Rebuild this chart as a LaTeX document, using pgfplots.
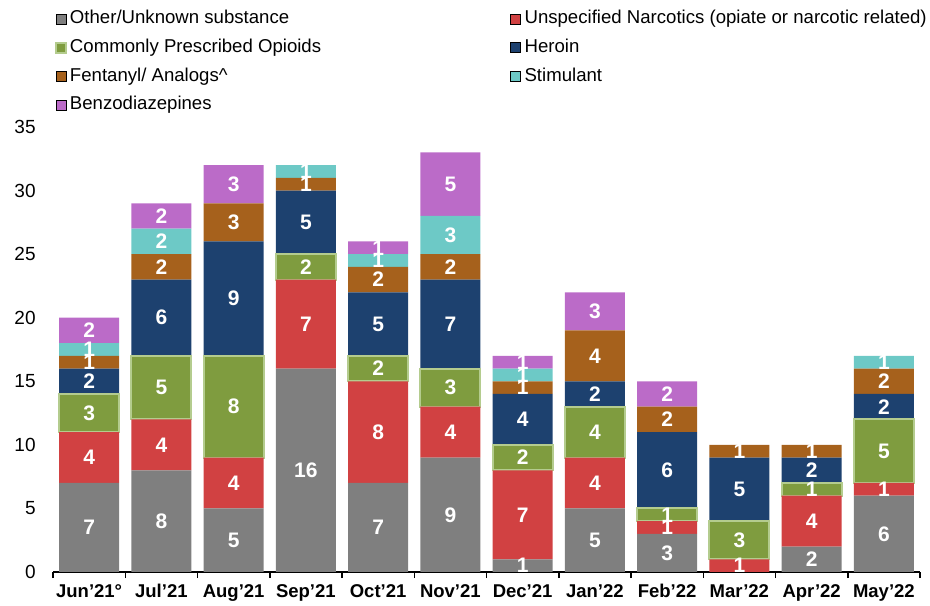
\documentclass[border=0pt]{standalone}
\usepackage{pgfplots}
\pgfplotsset{compat=1.18}
\usepackage{pgfplotstable}
\usepackage{fontspec}
\setmainfont{Liberation Sans}
\definecolor{cOther}{HTML}{7F7F7F}
\definecolor{cUnspec}{HTML}{D14142}
\definecolor{cPresc}{HTML}{7F9C3F}
\definecolor{cPrescEdge}{HTML}{B4CC8E}
\definecolor{cHeroin}{HTML}{1D416F}
\definecolor{cFent}{HTML}{A6611C}
\definecolor{cStim}{HTML}{6DC9C6}
\definecolor{cBenzo}{HTML}{BB6BC8}
\pgfplotstableread{
x Other Unspec Presc Heroin Fent Stim Benzo
0 7 4 3 2 1 1 2
1 8 4 5 6 2 2 2
2 5 4 8 9 3 0 3
3 16 7 2 5 1 1 0
4 7 8 2 5 2 1 1
5 9 4 3 7 2 3 5
6 1 7 2 4 1 1 1
7 5 4 4 2 4 0 3
8 3 1 1 6 2 0 2
9 0 1 3 5 1 0 0
10 2 4 1 2 1 0 0
11 6 1 5 2 2 1 0
}\datatable
\pgfplotsset{
  mybar/.style={
    legend image code/.code={\draw[##1] (0bp,-5bp) rectangle (10bp,5bp);},
  }
}
\newcommand{\seg}[3]{%
  \addplot[fill=#2, #3, mybar, visualization depends on={\thisrow{#1}\as\segval}]
    table[x=x,y=#1]{\datatable};
}
\begin{document}
\fontsize{18.6bp}{22bp}\selectfont
\begin{tikzpicture}
\path[use as bounding box] (0,0) rectangle (930bp,606bp);
\begin{axis}[
  at={(53bp,34bp)}, anchor=south west,
  scale only axis, width=867bp, height=445bp,
  xmin=-0.5, xmax=11.5, ymin=0, ymax=35,
  ybar stacked, bar width=0.83,
  axis x line=bottom, axis y line=left,
  axis line style={-},
  x axis line style={line width=1.5bp, black},
  y axis line style={draw=none},
  tick align=outside,
  major tick length=0bp, minor tick length=6bp,
  minor tick style={line width=1.5bp, black},
  xtick={0,...,11},
  minor xtick={-0.5,0.5,...,11.5},
  xticklabels={Jun'21°,Jul'21,Aug'21,Sep'21,Oct'21,Nov'21,Dec'21,Jan'22,Feb'22,Mar'22,Apr'22,May'22},
  x tick label style={font=\fontsize{18.5bp}{20bp}\selectfont\bfseries, yshift=-6bp},
  ytick={0,5,...,35},
  y tick label style={font=\fontsize{19bp}{20bp}\selectfont, xshift=-11bp},
  /pgf/number format/assume math mode=true,
  nodes near coords={\ifdim\segval pt=0pt\else\pgfmathprintnumber{\segval}\fi},
  every node near coord/.append style={anchor=center, text=white, font=\fontsize{21bp}{22bp}\selectfont\bfseries, inner sep=0pt},
  legend columns=2,
  legend cell align=left,
  legend style={draw=none, fill=none, at={(axis description cs:0.0023,1.262)}, anchor=north west,
    inner sep=0pt, outer sep=0pt,
    font=\fontsize{18.6bp}{22bp}\selectfont,
    nodes={inner sep=0pt, text height=13.4bp, text depth=3.6bp},
    /tikz/row sep=11.7bp,
    /tikz/column 1/.style={column sep=3bp},
    /tikz/column 2/.style={column sep=189bp},
    /tikz/column 3/.style={column sep=4bp}},
]
\seg{Other}{cOther}{draw=none}
\seg{Unspec}{cUnspec}{draw=none}
\seg{Presc}{cPresc}{draw=cPrescEdge, line width=2bp}
\seg{Heroin}{cHeroin}{draw=none}
\seg{Fent}{cFent}{draw=none}
\seg{Stim}{cStim}{draw=none}
\seg{Benzo}{cBenzo}{draw=none}
\legend{Other/Unknown substance, Unspecified Narcotics (opiate or narcotic related), Commonly Prescribed Opioids, Heroin, Fentanyl/ Analogs\^{}, Stimulant, Benzodiazepines}
\end{axis}
\end{tikzpicture}
\end{document}
